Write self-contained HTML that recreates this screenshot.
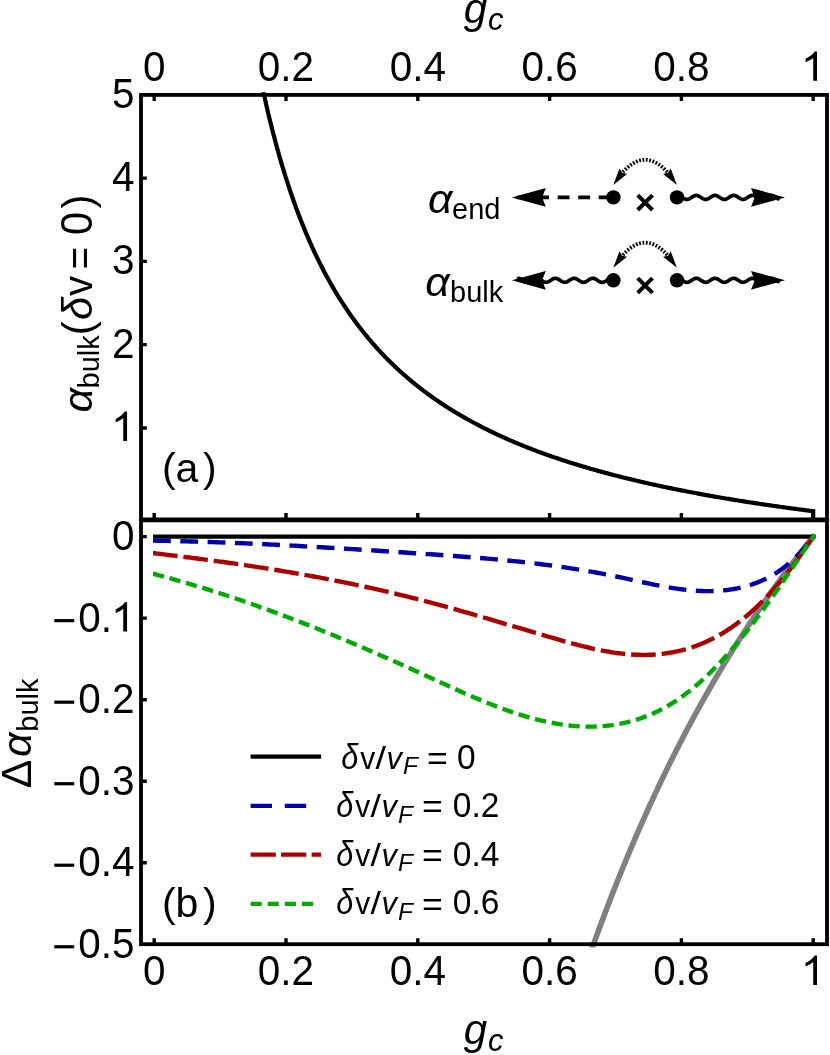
<!DOCTYPE html>
<html><head><meta charset="utf-8"><title>fig</title>
<style>html,body{margin:0;padding:0;background:#fff}svg{display:block;will-change:transform}</style></head>
<body>
<svg width="830" height="1055" viewBox="0 0 830 1055">
<rect width="830" height="1055" fill="#fff"/>
<defs>
<clipPath id="ct"><rect x="141.0" y="92.2" width="686.0" height="428.2"/></clipPath>
<clipPath id="cg"><rect x="141.0" y="520.4" width="686.0" height="427.00000000000006"/></clipPath>
<clipPath id="cb"><rect x="141.0" y="520.4" width="686.0" height="423.80000000000007"/></clipPath>
<path id="one" d="M763 0H583V-1147Q518 -1085 412.5 -1023Q307 -961 223 -930V-1104Q374 -1175 487 -1276Q600 -1377 647 -1472H763Z"/>
<path id="ah" d="M0,0 L-34,-9.4 L-30.3,0 L-34,9.4 Z"/>
<path id="ahs" d="M0,0 L-17,-4.7 L-15,0 L-17,4.7 Z"/>
</defs>
<g clip-path="url(#ct)"><path d="M259.64,74.03 L261.03,80.79 L262.41,87.38 L263.80,93.80 L265.19,100.05 L266.58,106.16 L267.96,112.11 L269.35,117.92 L270.74,123.60 L272.13,129.14 L273.51,134.55 L274.90,139.83 L276.29,145.00 L277.68,150.05 L279.06,154.99 L280.45,159.82 L281.84,164.54 L283.23,169.17 L284.61,173.69 L286.00,178.12 L287.39,182.46 L288.77,186.70 L290.16,190.87 L291.55,194.94 L292.94,198.94 L294.32,202.85 L295.71,206.69 L297.10,210.46 L298.49,214.15 L299.87,217.77 L301.26,221.33 L302.65,224.81 L304.04,228.24 L305.42,231.60 L306.81,234.89 L308.20,238.13 L309.59,241.32 L310.97,244.44 L312.36,247.51 L313.75,250.53 L315.13,253.49 L316.52,256.41 L317.91,259.27 L319.30,262.09 L320.68,264.86 L322.07,267.58 L323.46,270.26 L324.85,272.90 L326.23,275.49 L327.62,278.04 L329.01,280.56 L330.40,283.03 L331.78,285.46 L333.17,287.86 L334.56,290.21 L335.95,292.54 L337.33,294.82 L338.72,297.08 L340.11,299.30 L341.49,301.48 L342.88,303.64 L344.27,305.76 L345.66,307.85 L347.04,309.91 L348.43,311.95 L349.82,313.95 L351.21,315.93 L352.59,317.87 L353.98,319.79 L355.37,321.69 L356.76,323.56 L358.14,325.40 L359.53,327.22 L360.92,329.01 L362.31,330.78 L363.69,332.53 L365.08,334.25 L366.47,335.95 L367.85,337.63 L369.24,339.29 L370.63,340.92 L372.02,342.54 L373.40,344.13 L374.79,345.71 L376.18,347.26 L377.57,348.80 L378.95,350.31 L380.34,351.81 L381.73,353.29 L383.12,354.75 L384.50,356.20 L385.89,357.62 L387.28,359.03 L388.67,360.43 L390.05,361.80 L391.44,363.16 L392.83,364.51 L394.21,365.84 L395.60,367.15 L396.99,368.45 L398.38,369.74 L399.76,371.01 L401.15,372.26 L402.54,373.50 L403.93,374.73 L405.31,375.94 L406.70,377.14 L408.09,378.33 L409.48,379.51 L410.86,380.67 L412.25,381.82 L413.64,382.96 L415.03,384.08 L416.41,385.19 L417.80,386.29 L419.19,387.38 L420.57,388.46 L421.96,389.53 L423.35,390.59 L424.74,391.63 L426.12,392.67 L427.51,393.69 L428.90,394.71 L430.29,395.71 L431.67,396.70 L433.06,397.69 L434.45,398.66 L435.84,399.63 L437.22,400.58 L438.61,401.53 L440.00,402.46 L441.39,403.39 L442.77,404.31 L444.16,405.22 L445.55,406.12 L446.93,407.01 L448.32,407.90 L449.71,408.77 L451.10,409.64 L452.48,410.50 L453.87,411.35 L455.26,412.20 L456.65,413.03 L458.03,413.86 L459.42,414.68 L460.81,415.50 L462.20,416.30 L463.58,417.10 L464.97,417.89 L466.36,418.68 L467.75,419.46 L469.13,420.23 L470.52,420.99 L471.91,421.75 L473.29,422.50 L474.68,423.24 L476.07,423.98 L477.46,424.71 L478.84,425.44 L480.23,426.16 L481.62,426.87 L483.01,427.58 L484.39,428.28 L485.78,428.98 L487.17,429.66 L488.56,430.35 L489.94,431.03 L491.33,431.70 L492.72,432.37 L494.11,433.03 L495.49,433.68 L496.88,434.34 L498.27,434.98 L499.65,435.62 L501.04,436.26 L502.43,436.89 L503.82,437.51 L505.20,438.13 L506.59,438.75 L507.98,439.36 L509.37,439.97 L510.75,440.57 L512.14,441.16 L513.53,441.75 L514.92,442.34 L516.30,442.92 L517.69,443.50 L519.08,444.08 L520.47,444.65 L521.85,445.21 L523.24,445.77 L524.63,446.33 L526.01,446.88 L527.40,447.43 L528.79,447.98 L530.18,448.52 L531.56,449.05 L532.95,449.59 L534.34,450.12 L535.73,450.64 L537.11,451.16 L538.50,451.68 L539.89,452.19 L541.28,452.70 L542.66,453.21 L544.05,453.71 L545.44,454.21 L546.83,454.71 L548.21,455.20 L549.60,455.69 L550.99,456.17 L552.37,456.65 L553.76,457.13 L555.15,457.61 L556.54,458.08 L557.92,458.55 L559.31,459.01 L560.70,459.48 L562.09,459.94 L563.47,460.39 L564.86,460.84 L566.25,461.29 L567.64,461.74 L569.02,462.18 L570.41,462.63 L571.80,463.06 L573.19,463.50 L574.57,463.93 L575.96,464.36 L577.35,464.79 L578.73,465.21 L580.12,465.63 L581.51,466.05 L582.90,466.47 L584.28,466.88 L585.67,467.29 L587.06,467.70 L588.45,468.10 L589.83,468.50 L591.22,468.90 L592.61,469.30 L594.00,469.70 L595.38,470.09 L596.77,470.48 L598.16,470.87 L599.55,471.25 L600.93,471.63 L602.32,472.01 L603.71,472.39 L605.09,472.77 L606.48,473.14 L607.87,473.51 L609.26,473.88 L610.64,474.25 L612.03,474.61 L613.42,474.97 L614.81,475.33 L616.19,475.69 L617.58,476.05 L618.97,476.40 L620.36,476.75 L621.74,477.10 L623.13,477.45 L624.52,477.79 L625.91,478.14 L627.29,478.48 L628.68,478.82 L630.07,479.15 L631.45,479.49 L632.84,479.82 L634.23,480.15 L635.62,480.48 L637.00,480.81 L638.39,481.14 L639.78,481.46 L641.17,481.78 L642.55,482.10 L643.94,482.42 L645.33,482.74 L646.72,483.05 L648.10,483.37 L649.49,483.68 L650.88,483.99 L652.27,484.29 L653.65,484.60 L655.04,484.90 L656.43,485.21 L657.81,485.51 L659.20,485.81 L660.59,486.10 L661.98,486.40 L663.36,486.70 L664.75,486.99 L666.14,487.28 L667.53,487.57 L668.91,487.86 L670.30,488.14 L671.69,488.43 L673.08,488.71 L674.46,488.99 L675.85,489.28 L677.24,489.55 L678.63,489.83 L680.01,490.11 L681.40,490.38 L682.79,490.66 L684.17,490.93 L685.56,491.20 L686.95,491.47 L688.34,491.73 L689.72,492.00 L691.11,492.27 L692.50,492.53 L693.89,492.79 L695.27,493.05 L696.66,493.31 L698.05,493.57 L699.44,493.83 L700.82,494.08 L702.21,494.34 L703.60,494.59 L704.99,494.84 L706.37,495.09 L707.76,495.34 L709.15,495.59 L710.53,495.83 L711.92,496.08 L713.31,496.32 L714.70,496.57 L716.08,496.81 L717.47,497.05 L718.86,497.29 L720.25,497.53 L721.63,497.76 L723.02,498.00 L724.41,498.23 L725.80,498.47 L727.18,498.70 L728.57,498.93 L729.96,499.16 L731.35,499.39 L732.73,499.62 L734.12,499.84 L735.51,500.07 L736.89,500.30 L738.28,500.52 L739.67,500.74 L741.06,500.96 L742.44,501.18 L743.83,501.40 L745.22,501.62 L746.61,501.84 L747.99,502.06 L749.38,502.27 L750.77,502.49 L752.16,502.70 L753.54,502.91 L754.93,503.12 L756.32,503.33 L757.71,503.54 L759.09,503.75 L760.48,503.96 L761.87,504.17 L763.25,504.37 L764.64,504.58 L766.03,504.78 L767.42,504.98 L768.80,505.19 L770.19,505.39 L771.58,505.59 L772.97,505.79 L774.35,505.98 L775.74,506.18 L777.13,506.38 L778.52,506.57 L779.90,506.77 L781.29,506.96 L782.68,507.16 L784.07,507.35 L785.45,507.54 L786.84,507.73 L788.23,507.92 L789.61,508.11 L791.00,508.30 L792.39,508.48 L793.78,508.67 L795.16,508.86 L796.55,509.04 L797.94,509.23 L799.33,509.41 L800.71,509.59 L802.10,509.77 L803.49,509.95 L804.88,510.13 L806.26,510.31 L807.65,510.49 L809.04,510.67 L810.43,510.85 L811.81,511.02 L813.20,511.20 L813.20,520.40" fill="none" stroke="#000" stroke-width="4.2" stroke-linejoin="miter" stroke-miterlimit="10"/></g>
<g fill="none">
<path d="M575.96,995.20 L577.15,991.61 L578.34,988.04 L579.54,984.49 L580.73,980.96 L581.92,977.45 L583.11,973.96 L584.31,970.49 L585.50,967.03 L586.69,963.60 L587.88,960.19 L589.07,956.79 L590.27,953.41 L591.46,950.05 L592.65,946.71 L593.84,943.39 L595.03,940.09 L596.23,936.80 L597.42,933.53 L598.61,930.28 L599.80,927.04 L601.00,923.83 L602.19,920.63 L603.38,917.45 L604.57,914.28 L605.76,911.13 L606.96,908.00 L608.15,904.88 L609.34,901.78 L610.53,898.70 L611.72,895.63 L612.92,892.58 L614.11,889.54 L615.30,886.52 L616.49,883.52 L617.69,880.53 L618.88,877.56 L620.07,874.60 L621.26,871.65 L622.45,868.73 L623.65,865.81 L624.84,862.91 L626.03,860.03 L627.22,857.16 L628.42,854.30 L629.61,851.46 L630.80,848.64 L631.99,845.82 L633.18,843.03 L634.38,840.24 L635.57,837.47 L636.76,834.71 L637.95,831.97 L639.14,829.24 L640.34,826.52 L641.53,823.82 L642.72,821.13 L643.91,818.45 L645.11,815.79 L646.30,813.14 L647.49,810.50 L648.68,807.87 L649.87,805.26 L651.07,802.66 L652.26,800.07 L653.45,797.50 L654.64,794.93 L655.83,792.38 L657.03,789.84 L658.22,787.32 L659.41,784.80 L660.60,782.30 L661.80,779.81 L662.99,777.33 L664.18,774.86 L665.37,772.40 L666.56,769.96 L667.76,767.52 L668.95,765.10 L670.14,762.69 L671.33,760.29 L672.53,757.90 L673.72,755.52 L674.91,753.15 L676.10,750.80 L677.29,748.45 L678.49,746.11 L679.68,743.79 L680.87,741.48 L682.06,739.17 L683.25,736.88 L684.45,734.60 L685.64,732.32 L686.83,730.06 L688.02,727.81 L689.22,725.56 L690.41,723.33 L691.60,721.11 L692.79,718.90 L693.98,716.69 L695.18,714.50 L696.37,712.32 L697.56,710.14 L698.75,707.98 L699.94,705.82 L701.14,703.68 L702.33,701.54 L703.52,699.41 L704.71,697.30 L705.91,695.19 L707.10,693.09 L708.29,691.00 L709.48,688.92 L710.67,686.84 L711.87,684.78 L713.06,682.73 L714.25,680.68 L715.44,678.64 L716.63,676.61 L717.83,674.59 L719.02,672.58 L720.21,670.58 L721.40,668.58 L722.60,666.60 L723.79,664.62 L724.98,662.65 L726.17,660.69 L727.36,658.73 L728.56,656.79 L729.75,654.85 L730.94,652.92 L732.13,651.00 L733.33,649.08 L734.52,647.18 L735.71,645.28 L736.90,643.39 L738.09,641.51 L739.29,639.63 L740.48,637.77 L741.67,635.91 L742.86,634.06 L744.05,632.21 L745.25,630.37 L746.44,628.54 L747.63,626.72 L748.82,624.91 L750.02,623.10 L751.21,621.30 L752.40,619.51 L753.59,617.72 L754.78,615.94 L755.98,614.17 L757.17,612.40 L758.36,610.65 L759.55,608.89 L760.74,607.15 L761.94,605.41 L763.13,603.68 L764.32,601.96 L765.51,600.24 L766.71,598.53 L767.90,596.83 L769.09,595.13 L770.28,593.44 L771.47,591.75 L772.67,590.08 L773.86,588.41 L775.05,586.74 L776.24,585.08 L777.44,583.43 L778.63,581.79 L779.82,580.15 L781.01,578.51 L782.20,576.89 L783.40,575.26 L784.59,573.65 L785.78,572.04 L786.97,570.44 L788.16,568.84 L789.36,567.25 L790.55,565.67 L791.74,564.09 L792.93,562.52 L794.13,560.95 L795.32,559.39 L796.51,557.83 L797.70,556.28 L798.89,554.74 L800.09,553.20 L801.28,551.67 L802.47,550.14 L803.66,548.62 L804.85,547.11 L806.05,545.60 L807.24,544.09 L808.43,542.59 L809.62,541.10 L810.82,539.61 L812.01,538.13 L813.20,536.65" stroke="#808080" stroke-width="5.6" clip-path="url(#cg)"/>
</g>
<g clip-path="url(#cb)" fill="none">
<path d="M153,536.6999999999999 L815.6,536.6999999999999" stroke="#000" stroke-width="4.2"/>
<path d="M153.00,540.66 L154.20,540.66 L157.49,540.71 L160.79,540.76 L164.08,540.82 L167.38,540.89 L170.67,540.95 L173.97,541.03 L177.26,541.10 L180.56,541.18 L183.85,541.26 L187.15,541.34 L190.44,541.43 L193.74,541.52 L197.03,541.62 L200.33,541.72 L203.62,541.82 L206.92,541.92 L210.21,542.03 L213.51,542.14 L216.81,542.26 L220.10,542.37 L223.39,542.49 L226.69,542.62 L229.98,542.74 L233.28,542.87 L236.57,543.01 L239.87,543.14 L243.16,543.28 L246.46,543.42 L249.75,543.56 L253.05,543.71 L256.34,543.86 L259.64,544.01 L262.94,544.16 L266.23,544.32 L269.52,544.47 L272.82,544.63 L276.12,544.80 L279.41,544.96 L282.70,545.13 L286.00,545.30 L289.29,545.47 L292.59,545.65 L295.88,545.82 L299.18,546.00 L302.48,546.18 L305.77,546.36 L309.06,546.55 L312.36,546.73 L315.65,546.92 L318.95,547.11 L322.25,547.30 L325.54,547.49 L328.84,547.69 L332.13,547.88 L335.43,548.08 L338.72,548.28 L342.01,548.48 L345.31,548.68 L348.61,548.89 L351.90,549.09 L355.19,549.30 L358.49,549.51 L361.78,549.71 L365.08,549.92 L368.38,550.14 L371.67,550.35 L374.97,550.56 L378.26,550.78 L381.56,550.99 L384.85,551.21 L388.14,551.42 L391.44,551.64 L394.74,551.86 L398.03,552.08 L401.32,552.30 L404.62,552.52 L407.91,552.74 L411.21,552.97 L414.50,553.19 L417.80,553.41 L421.10,553.64 L424.39,553.86 L427.69,554.09 L430.98,554.31 L434.27,554.54 L437.57,554.77 L440.87,555.00 L444.16,555.24 L447.45,555.47 L450.75,555.71 L454.05,555.95 L457.34,556.20 L460.63,556.45 L463.93,556.70 L467.23,556.95 L470.52,557.21 L473.81,557.48 L477.11,557.75 L480.40,558.02 L483.70,558.30 L487.00,558.58 L490.29,558.87 L493.58,559.17 L496.88,559.47 L500.18,559.77 L503.47,560.09 L506.76,560.41 L510.06,560.74 L513.36,561.07 L516.65,561.41 L519.94,561.76 L523.24,562.12 L526.54,562.49 L529.83,562.86 L533.12,563.24 L536.42,563.63 L539.71,564.03 L543.01,564.45 L546.30,564.86 L549.60,565.29 L552.89,565.73 L556.19,566.18 L559.48,566.64 L562.78,567.12 L566.08,567.60 L569.37,568.09 L572.66,568.60 L575.96,569.12 L579.25,569.64 L582.55,570.19 L585.85,570.74 L589.14,571.31 L592.43,571.89 L595.73,572.48 L599.03,573.08 L602.32,573.70 L605.62,574.34 L608.91,574.99 L612.21,575.65 L615.50,576.33 L618.79,577.02 L622.09,577.72 L625.38,578.43 L628.68,579.15 L631.97,579.88 L635.27,580.60 L638.57,581.32 L641.86,582.04 L645.15,582.75 L648.45,583.45 L651.75,584.14 L655.04,584.81 L658.34,585.46 L661.63,586.09 L664.92,586.70 L668.22,587.28 L671.52,587.83 L674.81,588.35 L678.11,588.83 L681.40,589.28 L683.05,589.48 L683.87,589.58 L684.68,589.68 L685.50,589.77 L686.32,589.86 L687.14,589.95 L687.96,590.04 L688.78,590.12 L689.60,590.20 L690.41,590.28 L691.23,590.35 L692.05,590.42 L692.87,590.49 L693.69,590.55 L694.51,590.61 L695.33,590.67 L696.14,590.73 L696.96,590.78 L697.78,590.83 L698.60,590.87 L699.42,590.91 L700.24,590.95 L701.06,590.98 L701.87,591.01 L702.69,591.04 L703.51,591.07 L704.33,591.08 L705.15,591.10 L705.97,591.11 L706.79,591.12 L707.60,591.13 L708.42,591.13 L709.24,591.12 L710.06,591.12 L710.88,591.11 L711.70,591.09 L712.52,591.07 L713.33,591.05 L714.15,591.02 L714.97,590.99 L715.79,590.95 L716.61,590.91 L717.43,590.87 L718.25,590.82 L719.06,590.77 L719.88,590.71 L720.70,590.65 L721.52,590.58 L722.34,590.51 L723.16,590.43 L723.98,590.35 L724.79,590.26 L725.61,590.17 L726.43,590.08 L727.25,589.98 L728.07,589.87 L728.89,589.76 L729.71,589.64 L730.52,589.52 L731.34,589.40 L732.16,589.27 L732.98,589.13 L733.80,588.99 L734.62,588.85 L735.44,588.69 L736.25,588.54 L737.07,588.38 L737.89,588.21 L738.71,588.03 L739.53,587.86 L740.35,587.67 L741.17,587.48 L741.98,587.29 L742.80,587.08 L743.62,586.88 L744.44,586.67 L745.26,586.45 L746.08,586.22 L746.90,585.99 L747.71,585.76 L748.53,585.51 L749.35,585.27 L750.17,585.01 L750.99,584.75 L751.81,584.48 L752.63,584.21 L753.44,583.93 L754.26,583.64 L755.08,583.34 L755.90,583.04 L756.72,582.73 L757.54,582.42 L758.36,582.09 L759.17,581.76 L759.99,581.42 L760.81,581.07 L761.63,580.72 L762.45,580.35 L763.27,579.98 L764.09,579.60 L764.90,579.21 L765.72,578.81 L766.54,578.41 L767.36,577.99 L768.18,577.57 L769.00,577.13 L769.82,576.69 L770.63,576.24 L771.45,575.78 L772.27,575.31 L773.09,574.82 L773.91,574.33 L774.73,573.83 L775.55,573.32 L776.36,572.80 L777.18,572.27 L778.00,571.72 L778.82,571.17 L779.64,570.61 L780.46,570.03 L781.28,569.45 L782.09,568.85 L782.91,568.24 L783.73,567.62 L784.55,566.99 L785.37,566.35 L786.19,565.69 L787.01,565.02 L787.82,564.35 L788.64,563.65 L789.46,562.95 L790.28,562.24 L791.10,561.51 L791.92,560.77 L792.74,560.01 L793.55,559.25 L794.37,558.47 L795.19,557.67 L796.01,556.87 L796.83,556.05 L797.65,555.22 L798.47,554.37 L799.28,553.51 L800.10,552.63 L800.92,551.75 L801.74,550.84 L802.56,549.93 L803.38,549.00 L804.20,548.05 L805.01,547.09 L805.83,546.11 L806.65,545.12 L807.47,544.12 L808.29,543.10 L809.11,542.06 L809.93,541.01 L810.74,539.94 L811.56,538.86 L812.38,537.76 L813.20,536.65 L814.50,534.88" stroke="#0000aa" stroke-width="4.4" stroke-dasharray="17.8 9.5"/>
<path d="M153.00,553.28 L154.20,553.28 L157.49,553.67 L160.79,554.05 L164.08,554.44 L167.38,554.84 L170.67,555.23 L173.97,555.63 L177.26,556.03 L180.56,556.44 L183.85,556.85 L187.15,557.26 L190.44,557.68 L193.74,558.09 L197.03,558.52 L200.33,558.95 L203.62,559.38 L206.92,559.81 L210.21,560.25 L213.51,560.69 L216.81,561.14 L220.10,561.59 L223.39,562.05 L226.69,562.51 L229.98,562.97 L233.28,563.44 L236.57,563.91 L239.87,564.39 L243.16,564.87 L246.46,565.36 L249.75,565.85 L253.05,566.35 L256.34,566.86 L259.64,567.36 L262.94,567.88 L266.23,568.39 L269.52,568.92 L272.82,569.45 L276.12,569.98 L279.41,570.52 L282.70,571.07 L286.00,571.62 L289.29,572.18 L292.59,572.74 L295.88,573.31 L299.18,573.88 L302.48,574.46 L305.77,575.05 L309.06,575.64 L312.36,576.24 L315.65,576.85 L318.95,577.46 L322.25,578.08 L325.54,578.71 L328.84,579.34 L332.13,579.98 L335.43,580.63 L338.72,581.28 L342.01,581.94 L345.31,582.61 L348.61,583.28 L351.90,583.96 L355.19,584.65 L358.49,585.35 L361.78,586.05 L365.08,586.76 L368.38,587.48 L371.67,588.21 L374.97,588.94 L378.26,589.68 L381.56,590.43 L384.85,591.19 L388.14,591.96 L391.44,592.73 L394.74,593.51 L398.03,594.30 L401.32,595.10 L404.62,595.91 L407.91,596.72 L411.21,597.55 L414.50,598.38 L417.80,599.22 L421.10,600.07 L424.39,600.93 L427.69,601.80 L430.98,602.67 L434.27,603.55 L437.57,604.44 L440.87,605.34 L444.16,606.24 L447.45,607.15 L450.75,608.07 L454.05,608.99 L457.34,609.92 L460.63,610.85 L463.93,611.79 L467.23,612.73 L470.52,613.68 L473.81,614.63 L477.11,615.59 L480.40,616.55 L483.70,617.51 L487.00,618.47 L490.29,619.44 L493.58,620.41 L496.88,621.39 L500.18,622.36 L503.47,623.34 L506.76,624.31 L510.06,625.29 L513.36,626.27 L516.65,627.25 L519.94,628.23 L523.24,629.21 L526.54,630.19 L529.83,631.17 L533.12,632.14 L536.42,633.12 L539.71,634.09 L543.01,635.07 L546.30,636.04 L549.60,637.00 L552.89,637.97 L556.19,638.93 L559.48,639.88 L562.78,640.82 L566.08,641.76 L569.37,642.67 L572.66,643.57 L575.96,644.46 L579.25,645.32 L582.55,646.16 L585.85,646.97 L589.14,647.76 L592.43,648.52 L595.73,649.25 L599.03,649.94 L602.32,650.59 L605.62,651.21 L608.91,651.79 L612.21,652.32 L615.50,652.81 L618.79,653.25 L622.09,653.65 L625.38,653.99 L628.68,654.28 L631.97,654.51 L635.27,654.69 L638.57,654.81 L641.86,654.88 L645.15,654.88 L648.45,654.82 L651.75,654.69 L655.04,654.50 L658.34,654.24 L661.63,653.91 L664.92,653.51 L668.22,653.03 L671.52,652.49 L674.81,651.86 L678.11,651.16 L681.40,650.38 L683.05,649.95 L683.87,649.74 L684.68,649.51 L685.50,649.29 L686.32,649.05 L687.14,648.82 L687.96,648.57 L688.78,648.32 L689.60,648.07 L690.41,647.81 L691.23,647.55 L692.05,647.28 L692.87,647.00 L693.69,646.72 L694.51,646.44 L695.33,646.14 L696.14,645.85 L696.96,645.55 L697.78,645.24 L698.60,644.92 L699.42,644.61 L700.24,644.28 L701.06,643.95 L701.87,643.62 L702.69,643.27 L703.51,642.93 L704.33,642.57 L705.15,642.21 L705.97,641.85 L706.79,641.48 L707.60,641.10 L708.42,640.72 L709.24,640.33 L710.06,639.94 L710.88,639.54 L711.70,639.13 L712.52,638.72 L713.33,638.30 L714.15,637.88 L714.97,637.45 L715.79,637.01 L716.61,636.57 L717.43,636.12 L718.25,635.67 L719.06,635.21 L719.88,634.74 L720.70,634.27 L721.52,633.79 L722.34,633.30 L723.16,632.81 L723.98,632.31 L724.79,631.80 L725.61,631.29 L726.43,630.77 L727.25,630.25 L728.07,629.72 L728.89,629.18 L729.71,628.64 L730.52,628.09 L731.34,627.53 L732.16,626.97 L732.98,626.40 L733.80,625.82 L734.62,625.23 L735.44,624.64 L736.25,624.05 L737.07,623.44 L737.89,622.83 L738.71,622.21 L739.53,621.59 L740.35,620.96 L741.17,620.32 L741.98,619.67 L742.80,619.02 L743.62,618.36 L744.44,617.69 L745.26,617.02 L746.08,616.34 L746.90,615.65 L747.71,614.96 L748.53,614.25 L749.35,613.54 L750.17,612.83 L750.99,612.10 L751.81,611.37 L752.63,610.64 L753.44,609.89 L754.26,609.14 L755.08,608.38 L755.90,607.61 L756.72,606.84 L757.54,606.06 L758.36,605.27 L759.17,604.48 L759.99,603.68 L760.81,602.87 L761.63,602.05 L762.45,601.23 L763.27,600.40 L764.09,599.56 L764.90,598.72 L765.72,597.87 L766.54,597.01 L767.36,596.14 L768.18,595.27 L769.00,594.39 L769.82,593.51 L770.63,592.61 L771.45,591.71 L772.27,590.81 L773.09,589.89 L773.91,588.97 L774.73,588.04 L775.55,587.11 L776.36,586.17 L777.18,585.22 L778.00,584.26 L778.82,583.30 L779.64,582.33 L780.46,581.35 L781.28,580.37 L782.09,579.38 L782.91,578.38 L783.73,577.37 L784.55,576.36 L785.37,575.34 L786.19,574.32 L787.01,573.29 L787.82,572.25 L788.64,571.20 L789.46,570.15 L790.28,569.09 L791.10,568.02 L791.92,566.95 L792.74,565.87 L793.55,564.78 L794.37,563.69 L795.19,562.59 L796.01,561.48 L796.83,560.37 L797.65,559.24 L798.47,558.12 L799.28,556.98 L800.10,555.84 L800.92,554.69 L801.74,553.53 L802.56,552.37 L803.38,551.20 L804.20,550.03 L805.01,548.84 L805.83,547.66 L806.65,546.46 L807.47,545.26 L808.29,544.05 L809.11,542.83 L809.93,541.61 L810.74,540.38 L811.56,539.14 L812.38,537.90 L813.20,536.65 L814.41,534.81" stroke="#aa0000" stroke-width="4.4" stroke-dasharray="24.7 5.9"/>
<path d="M153.00,574.07 L154.20,574.07 L157.49,574.93 L160.79,575.80 L164.08,576.68 L167.38,577.58 L170.67,578.48 L173.97,579.40 L177.26,580.33 L180.56,581.27 L183.85,582.22 L187.15,583.17 L190.44,584.14 L193.74,585.13 L197.03,586.12 L200.33,587.12 L203.62,588.13 L206.92,589.15 L210.21,590.18 L213.51,591.22 L216.81,592.28 L220.10,593.34 L223.39,594.41 L226.69,595.49 L229.98,596.58 L233.28,597.68 L236.57,598.79 L239.87,599.91 L243.16,601.04 L246.46,602.17 L249.75,603.32 L253.05,604.48 L256.34,605.64 L259.64,606.81 L262.94,608.00 L266.23,609.19 L269.52,610.39 L272.82,611.59 L276.12,612.81 L279.41,614.04 L282.70,615.27 L286.00,616.51 L289.29,617.76 L292.59,619.02 L295.88,620.28 L299.18,621.56 L302.48,622.84 L305.77,624.13 L309.06,625.42 L312.36,626.73 L315.65,628.04 L318.95,629.36 L322.25,630.69 L325.54,632.02 L328.84,633.36 L332.13,634.71 L335.43,636.07 L338.72,637.43 L342.01,638.80 L345.31,640.17 L348.61,641.55 L351.90,642.94 L355.19,644.34 L358.49,645.74 L361.78,647.15 L365.08,648.56 L368.38,649.99 L371.67,651.41 L374.97,652.85 L378.26,654.28 L381.56,655.73 L384.85,657.18 L388.14,658.64 L391.44,660.10 L394.74,661.57 L398.03,663.04 L401.32,664.52 L404.62,666.00 L407.91,667.49 L411.21,668.99 L414.50,670.49 L417.80,671.99 L421.10,673.50 L424.39,675.01 L427.69,676.53 L430.98,678.04 L434.27,679.56 L437.57,681.07 L440.87,682.59 L444.16,684.09 L447.45,685.59 L450.75,687.09 L454.05,688.58 L457.34,690.05 L460.63,691.52 L463.93,692.98 L467.23,694.42 L470.52,695.85 L473.81,697.26 L477.11,698.65 L480.40,700.03 L483.70,701.39 L487.00,702.72 L490.29,704.03 L493.58,705.32 L496.88,706.59 L500.18,707.83 L503.47,709.04 L506.76,710.22 L510.06,711.37 L513.36,712.49 L516.65,713.58 L519.94,714.64 L523.24,715.66 L526.54,716.64 L529.83,717.58 L533.12,718.49 L536.42,719.35 L539.71,720.18 L543.01,720.96 L546.30,721.69 L549.60,722.38 L552.89,723.03 L556.19,723.62 L559.48,724.17 L562.78,724.66 L566.08,725.11 L569.37,725.50 L572.66,725.83 L575.96,726.11 L579.25,726.33 L582.55,726.50 L585.85,726.60 L589.14,726.64 L592.43,726.62 L595.73,726.54 L599.03,726.39 L602.32,726.17 L605.62,725.89 L608.91,725.54 L612.21,725.12 L615.50,724.62 L618.79,724.06 L622.09,723.41 L625.38,722.70 L628.68,721.90 L631.97,721.02 L635.27,720.07 L638.57,719.03 L641.86,717.90 L645.15,716.68 L648.45,715.38 L651.75,713.99 L655.04,712.50 L658.34,710.92 L661.63,709.24 L664.92,707.47 L668.22,705.59 L671.52,703.62 L674.81,701.54 L678.11,699.35 L681.40,697.06 L683.05,695.87 L683.87,695.27 L684.68,694.66 L685.50,694.05 L686.32,693.43 L687.14,692.81 L687.96,692.17 L688.78,691.53 L689.60,690.89 L690.41,690.24 L691.23,689.58 L692.05,688.91 L692.87,688.24 L693.69,687.56 L694.51,686.88 L695.33,686.19 L696.14,685.49 L696.96,684.79 L697.78,684.08 L698.60,683.36 L699.42,682.64 L700.24,681.91 L701.06,681.18 L701.87,680.44 L702.69,679.69 L703.51,678.94 L704.33,678.18 L705.15,677.42 L705.97,676.65 L706.79,675.87 L707.60,675.09 L708.42,674.30 L709.24,673.51 L710.06,672.71 L710.88,671.90 L711.70,671.09 L712.52,670.28 L713.33,669.45 L714.15,668.62 L714.97,667.79 L715.79,666.95 L716.61,666.10 L717.43,665.25 L718.25,664.40 L719.06,663.53 L719.88,662.67 L720.70,661.79 L721.52,660.91 L722.34,660.03 L723.16,659.14 L723.98,658.24 L724.79,657.34 L725.61,656.44 L726.43,655.52 L727.25,654.61 L728.07,653.69 L728.89,652.76 L729.71,651.83 L730.52,650.89 L731.34,649.94 L732.16,649.00 L732.98,648.04 L733.80,647.08 L734.62,646.12 L735.44,645.15 L736.25,644.18 L737.07,643.20 L737.89,642.22 L738.71,641.23 L739.53,640.23 L740.35,639.24 L741.17,638.23 L741.98,637.22 L742.80,636.21 L743.62,635.19 L744.44,634.17 L745.26,633.14 L746.08,632.11 L746.90,631.07 L747.71,630.03 L748.53,628.99 L749.35,627.94 L750.17,626.88 L750.99,625.82 L751.81,624.76 L752.63,623.69 L753.44,622.61 L754.26,621.54 L755.08,620.46 L755.90,619.37 L756.72,618.28 L757.54,617.19 L758.36,616.09 L759.17,614.99 L759.99,613.88 L760.81,612.77 L761.63,611.66 L762.45,610.54 L763.27,609.42 L764.09,608.30 L764.90,607.17 L765.72,606.04 L766.54,604.91 L767.36,603.77 L768.18,602.63 L769.00,601.49 L769.82,600.34 L770.63,599.19 L771.45,598.04 L772.27,596.88 L773.09,595.72 L773.91,594.56 L774.73,593.40 L775.55,592.23 L776.36,591.06 L777.18,589.89 L778.00,588.71 L778.82,587.53 L779.64,586.35 L780.46,585.17 L781.28,583.98 L782.09,582.80 L782.91,581.61 L783.73,580.42 L784.55,579.22 L785.37,578.03 L786.19,576.83 L787.01,575.63 L787.82,574.43 L788.64,573.22 L789.46,572.02 L790.28,570.81 L791.10,569.61 L791.92,568.40 L792.74,567.18 L793.55,565.97 L794.37,564.76 L795.19,563.54 L796.01,562.33 L796.83,561.11 L797.65,559.89 L798.47,558.67 L799.28,557.45 L800.10,556.23 L800.92,555.01 L801.74,553.79 L802.56,552.57 L803.38,551.35 L804.20,550.12 L805.01,548.90 L805.83,547.67 L806.65,546.45 L807.47,545.22 L808.29,544.00 L809.11,542.77 L809.93,541.55 L810.74,540.32 L811.56,539.10 L812.38,537.87 L813.20,536.65 L814.42,534.82" stroke="#00aa00" stroke-width="4.4" stroke-dasharray="11.3 5.75"/>
</g>
<g fill="none" stroke="#000" stroke-width="3.8">
<rect x="141.0" y="94.9" width="686.0" height="424.5"/>
<rect x="141.0" y="520.4" width="686.0" height="423.80000000000007"/>
</g>
<path d="M154.20,94.9 v6.0 M154.20,519.4 v-6.5 M154.20,944.2 v-6.0 M286.00,94.9 v6.0 M286.00,519.4 v-6.5 M286.00,944.2 v-6.0 M417.80,94.9 v6.0 M417.80,519.4 v-6.5 M417.80,944.2 v-6.0 M549.60,94.9 v6.0 M549.60,519.4 v-6.5 M549.60,944.2 v-6.0 M681.40,94.9 v6.0 M681.40,519.4 v-6.5 M681.40,944.2 v-6.0 M813.20,94.9 v6.0 M813.20,519.4 v-6.5 M813.20,944.2 v-6.0 M141.0,427.93 h5.8 M141.0,344.66 h5.8 M141.0,261.39 h5.8 M141.0,178.12 h5.8 M141.0,536.65 h5.8 M141.0,618.17 h5.8 M141.0,699.69 h5.8 M141.0,781.21 h5.8 M141.0,862.73 h5.8" fill="none" stroke="#000" stroke-width="3.4"/>
<g font-family="'Liberation Sans', sans-serif" fill="#000">
<text transform="translate(142.94,80.80) scale(1.0,1.055)" font-size="40.5" text-anchor="start">0</text>
<text transform="translate(142.94,985.00) scale(1.0,1.055)" font-size="40.5" text-anchor="start">0</text>
<text transform="translate(257.85,80.80) scale(1.0,1.055)" font-size="40.5" text-anchor="start">0.2</text>
<text transform="translate(257.85,985.00) scale(1.0,1.055)" font-size="40.5" text-anchor="start">0.2</text>
<text transform="translate(389.65,80.80) scale(1.0,1.055)" font-size="40.5" text-anchor="start">0.4</text>
<text transform="translate(389.65,985.00) scale(1.0,1.055)" font-size="40.5" text-anchor="start">0.4</text>
<text transform="translate(521.45,80.80) scale(1.0,1.055)" font-size="40.5" text-anchor="start">0.6</text>
<text transform="translate(521.45,985.00) scale(1.0,1.055)" font-size="40.5" text-anchor="start">0.6</text>
<text transform="translate(653.25,80.80) scale(1.0,1.055)" font-size="40.5" text-anchor="start">0.8</text>
<text transform="translate(653.25,985.00) scale(1.0,1.055)" font-size="40.5" text-anchor="start">0.8</text>
<use href="#one" transform="translate(800.88,80.80) scale(0.02116,0.01997)"/>
<use href="#one" transform="translate(800.88,985.00) scale(0.02116,0.01997)"/>
<use href="#one" transform="translate(110.92,440.93) scale(0.02116,0.01997)"/>
<text transform="translate(111.98,357.66) scale(1.0,1.055)" font-size="40.5" text-anchor="start">2</text>
<text transform="translate(111.98,274.39) scale(1.0,1.055)" font-size="40.5" text-anchor="start">3</text>
<text transform="translate(111.98,191.12) scale(1.0,1.055)" font-size="40.5" text-anchor="start">4</text>
<text transform="translate(111.98,107.85) scale(1.0,1.055)" font-size="40.5" text-anchor="start">5</text>
<text transform="translate(111.98,549.85) scale(1.0,1.055)" font-size="40.5" text-anchor="start">0</text>
<text transform="translate(78.20,631.57) scale(1.0,1.055)" font-size="40.5" text-anchor="start">0.</text><use href="#one" transform="translate(110.92,631.57) scale(0.02116,0.01997)"/>
<rect x="54.3" y="619.07" width="19.9" height="3.2"/>
<text transform="translate(78.20,713.09) scale(1.0,1.055)" font-size="40.5" text-anchor="start">0.2</text>
<rect x="54.3" y="700.59" width="19.9" height="3.2"/>
<text transform="translate(78.20,794.61) scale(1.0,1.055)" font-size="40.5" text-anchor="start">0.3</text>
<rect x="54.3" y="782.11" width="19.9" height="3.2"/>
<text transform="translate(78.20,876.13) scale(1.0,1.055)" font-size="40.5" text-anchor="start">0.4</text>
<rect x="54.3" y="863.63" width="19.9" height="3.2"/>
<text transform="translate(78.20,957.65) scale(1.0,1.055)" font-size="40.5" text-anchor="start">0.5</text>
<rect x="54.3" y="945.15" width="19.9" height="3.2"/>
<text transform="translate(463.70,23.10) scale(1.0,1.0)" font-size="42" text-anchor="start" font-style="italic">g</text>
<text transform="translate(488.00,30.30) scale(1.0,1.0)" font-size="31" text-anchor="start" font-style="italic">c</text>
<text transform="translate(463.70,1044.00) scale(1.0,1.0)" font-size="42" text-anchor="start" font-style="italic">g</text>
<text transform="translate(488.00,1051.20) scale(1.0,1.0)" font-size="31" text-anchor="start" font-style="italic">c</text>
<text transform="translate(161.90,482.00) scale(1.0,1.0)" font-size="41" text-anchor="start">(</text>
<text transform="translate(175.50,482.00) scale(1.0,1.0)" font-size="41" text-anchor="start">a</text>
<text transform="translate(203.00,482.00) scale(1.0,1.0)" font-size="41" text-anchor="start">)</text>
<text transform="translate(161.90,917.00) scale(1.0,1.0)" font-size="41" text-anchor="start">(</text>
<text transform="translate(175.50,917.00) scale(1.0,1.0)" font-size="41" text-anchor="start">b</text>
<text transform="translate(203.00,917.00) scale(1.0,1.0)" font-size="41" text-anchor="start">)</text>
<g transform="translate(91.7,412) rotate(-90)">
<text transform="translate(-0.50,0.00) scale(1.0,0.96)" font-size="43" text-anchor="start" font-style="italic">α</text>
<text transform="translate(23.60,7.00) scale(1.0,1.0)" font-size="29" text-anchor="start">bulk</text>
<text transform="translate(76.80,0.00) scale(1.0,1.0)" font-size="42" text-anchor="start">(</text>
<text transform="translate(92.10,0.00) scale(1.1,1.1)" font-size="38" text-anchor="start" font-style="italic">δ</text>
<text transform="translate(115.90,0.00) scale(1.0,1.0)" font-size="40.5" text-anchor="start">v</text>
<text transform="translate(142.60,2.30) scale(0.96,1.055)" font-size="40.5" text-anchor="start">=</text>
<text transform="translate(177.00,0.00) scale(1.0,1.055)" font-size="41.5" text-anchor="start">0</text>
<text transform="translate(203.60,0.00) scale(1.0,1.0)" font-size="42" text-anchor="start">)</text>
</g>
<g transform="translate(30.8,787.1) rotate(-90)">
<text transform="translate(-1.20,0.00) scale(1.06,1.055)" font-size="40.5" text-anchor="start">Δ</text>
<text transform="translate(30.00,0.00) scale(1.0,0.96)" font-size="43" text-anchor="start" font-style="italic">α</text>
<text transform="translate(55.40,7.40) scale(1.0,1.0)" font-size="29" text-anchor="start">bulk</text>
</g>
<text transform="translate(427.90,212.80) scale(1.0,0.96)" font-size="43" text-anchor="start" font-style="italic">α</text>
<text transform="translate(452.00,218.80) scale(1.0,1.0)" font-size="29" text-anchor="start">end</text>
<text transform="translate(425.20,296.00) scale(1.0,0.96)" font-size="43" text-anchor="start" font-style="italic">α</text>
<text transform="translate(450.00,302.30) scale(1.0,1.0)" font-size="29" text-anchor="start">bulk</text>
<text transform="translate(341.20,768.60) scale(1.06,1.22)" font-size="29" text-anchor="start" font-style="italic">δ</text>
<text transform="translate(360.20,768.60) scale(1.0,1.055)" font-size="30" text-anchor="start">v</text>
<text transform="translate(375.60,768.60) scale(1.25,1.055)" font-size="30" text-anchor="start">/</text>
<text transform="translate(386.50,768.60) scale(1.0,1.0)" font-size="31" text-anchor="start" font-style="italic">v</text>
<text transform="translate(403.00,773.90) scale(1.0,1.0)" font-size="24.5" text-anchor="start" font-style="italic">F</text>
<text transform="translate(427.00,769.80) scale(1.15,1.055)" font-size="31" text-anchor="start">=</text>
<text transform="translate(457.00,768.60) scale(1.0,1.055)" font-size="33.5" text-anchor="start">0</text>
<text transform="translate(336.20,817.20) scale(1.06,1.22)" font-size="29" text-anchor="start" font-style="italic">δ</text>
<text transform="translate(355.20,817.20) scale(1.0,1.055)" font-size="30" text-anchor="start">v</text>
<text transform="translate(370.60,817.20) scale(1.25,1.055)" font-size="30" text-anchor="start">/</text>
<text transform="translate(381.50,817.20) scale(1.0,1.0)" font-size="31" text-anchor="start" font-style="italic">v</text>
<text transform="translate(398.00,822.50) scale(1.0,1.0)" font-size="24.5" text-anchor="start" font-style="italic">F</text>
<text transform="translate(422.00,818.40) scale(1.15,1.055)" font-size="31" text-anchor="start">=</text>
<text transform="translate(452.80,817.20) scale(1.0,1.055)" font-size="33.5" text-anchor="start">0.2</text>
<text transform="translate(336.20,865.80) scale(1.06,1.22)" font-size="29" text-anchor="start" font-style="italic">δ</text>
<text transform="translate(355.20,865.80) scale(1.0,1.055)" font-size="30" text-anchor="start">v</text>
<text transform="translate(370.60,865.80) scale(1.25,1.055)" font-size="30" text-anchor="start">/</text>
<text transform="translate(381.50,865.80) scale(1.0,1.0)" font-size="31" text-anchor="start" font-style="italic">v</text>
<text transform="translate(398.00,871.10) scale(1.0,1.0)" font-size="24.5" text-anchor="start" font-style="italic">F</text>
<text transform="translate(422.00,867.00) scale(1.15,1.055)" font-size="31" text-anchor="start">=</text>
<text transform="translate(452.80,865.80) scale(1.0,1.055)" font-size="33.5" text-anchor="start">0.4</text>
<text transform="translate(336.20,914.40) scale(1.06,1.22)" font-size="29" text-anchor="start" font-style="italic">δ</text>
<text transform="translate(355.20,914.40) scale(1.0,1.055)" font-size="30" text-anchor="start">v</text>
<text transform="translate(370.60,914.40) scale(1.25,1.055)" font-size="30" text-anchor="start">/</text>
<text transform="translate(381.50,914.40) scale(1.0,1.0)" font-size="31" text-anchor="start" font-style="italic">v</text>
<text transform="translate(398.00,919.70) scale(1.0,1.0)" font-size="24.5" text-anchor="start" font-style="italic">F</text>
<text transform="translate(422.00,915.60) scale(1.15,1.055)" font-size="31" text-anchor="start">=</text>
<text transform="translate(452.80,914.40) scale(1.0,1.055)" font-size="33.5" text-anchor="start">0.6</text>
</g>
<g fill="none" stroke-width="4.2">
<path d="M250.6,756.7 H321.1" stroke="#000"/>
<path d="M250.6,805.9 H321.1" stroke="#0000aa" stroke-dasharray="21.4 12.8 21.4 100"/>
<path d="M250.6,854.7 H321.1" stroke="#aa0000" stroke-dasharray="25.2 5.3"/>
<path d="M250.6,903.8 H321.1" stroke="#00aa00" stroke-dasharray="11.1 6.0 11.1 6.0 11.1 6.0 11.1 100"/>
</g>
<g fill="none" stroke="#000" stroke-width="3.7">
<path d="M610.5,197.4 H598.7 M590,197.4 H578.2 M569.5,197.4 H557.7 M549,197.4 H537.2"/>
<path d="M528.5,197.4 H518.0" stroke-linecap="round"/>
<path d="M677.00,195.44 L677.51,195.40 L678.02,195.42 L678.52,195.50 L679.03,195.63 L679.54,195.81 L680.05,196.04 L680.55,196.31 L681.06,196.61 L681.57,196.93 L682.08,197.27 L682.58,197.61 L683.09,197.94 L683.60,198.26 L684.11,198.55 L684.61,198.81 L685.12,199.03 L685.63,199.21 L686.14,199.33 L686.64,199.39 L687.15,199.40 L687.66,199.34 L688.17,199.24 L688.67,199.07 L689.18,198.86 L689.69,198.61 L690.20,198.32 L690.70,198.01 L691.21,197.68 L691.72,197.34 L692.23,197.00 L692.73,196.67 L693.24,196.37 L693.75,196.09 L694.26,195.85 L694.76,195.66 L695.27,195.52 L695.78,195.43 L696.29,195.40 L696.79,195.43 L697.30,195.51 L697.81,195.65 L698.32,195.84 L698.82,196.08 L699.33,196.35 L699.84,196.66 L700.35,196.98 L700.85,197.32 L701.36,197.66 L701.87,197.99 L702.38,198.31 L702.88,198.60 L703.39,198.85 L703.90,199.06 L704.41,199.23 L704.91,199.34 L705.42,199.39 L705.93,199.39 L706.44,199.33 L706.94,199.21 L707.45,199.04 L707.96,198.83 L708.47,198.57 L708.97,198.28 L709.48,197.96 L709.99,197.62 L710.50,197.28 L711.01,196.95 L711.51,196.62 L712.02,196.32 L712.53,196.05 L713.04,195.82 L713.54,195.64 L714.05,195.50 L714.56,195.42 L715.07,195.40 L715.57,195.44 L716.08,195.53 L716.59,195.68 L717.10,195.88 L717.60,196.12 L718.11,196.40 L718.62,196.70 L719.13,197.03 L719.63,197.37 L720.14,197.71 L720.65,198.04 L721.16,198.35 L721.66,198.64 L722.17,198.89 L722.68,199.09 L723.19,199.25 L723.69,199.35 L724.20,199.40 L724.71,199.39 L725.22,199.32 L725.72,199.19 L726.23,199.01 L726.74,198.79 L727.25,198.53 L727.75,198.23 L728.26,197.91 L728.77,197.57 L729.28,197.23 L729.78,196.90 L730.29,196.57 L730.80,196.28 L731.31,196.01 L731.81,195.79 L732.32,195.61 L732.83,195.49 L733.34,195.41 L733.84,195.40 L734.35,195.45 L734.86,195.55 L735.37,195.71 L735.87,195.91 L736.38,196.16 L736.89,196.44 L737.40,196.75 L737.90,197.09 L738.41,197.42 L738.92,197.76 L739.43,198.09 L739.93,198.40 L740.44,198.68 L740.95,198.92 L741.46,199.12 L741.96,199.27 L742.47,199.36 L742.98,199.40 L743.49,199.38 L743.99,199.30 L744.50,199.17 L745.01,198.98 L745.52,198.75 L746.03,198.48 L746.53,198.18 L747.04,197.86 L747.55,197.52 L748.06,197.18 L748.56,196.84 L749.07,196.53 L749.58,196.23 L750.09,195.97 L750.59,195.76 L751.10,195.59 L751.61,195.47 L752.12,195.41 L752.62,195.41 L753.13,195.46 L753.64,195.57 L754.15,195.73 L754.65,195.95 L755.16,196.20 L755.67,196.49 L756.18,196.80 L756.68,197.14 L757.19,197.48 L757.70,197.82 L758.21,198.14 L758.71,198.45 L759.22,198.72 L759.73,198.96 L760.24,199.15 L760.74,199.29 L761.25,199.37 L761.76,199.40 L762.27,199.37 L762.77,199.28 L763.28,199.14 L763.79,198.95 L764.30,198.71 L764.80,198.44 L765.31,198.13 L765.82,197.80 L766.33,197.47 L766.83,197.13 L767.34,196.79 L767.85,196.48 L768.36,196.19 L768.86,195.94 L769.37,195.73 L769.88,195.57 L770.39,195.46 L770.89,195.40 L771.40,195.41 L771.91,195.47 L772.42,195.59 L772.92,195.76 L773.43,195.98 L773.94,196.24 L774.45,196.54 L774.95,196.86 L775.46,197.19 L775.97,197.53 L776.48,197.87 L776.98,198.19 L777.49,198.49 L778.00,198.76" stroke-linecap="round"/>
<path d="M637.7,195.2 L652.5,210.0 M637.7,210.0 L652.5,195.2" stroke-width="4"/>
<path d="M622.84,172.10 L623.40,171.48 L623.97,170.89 L624.53,170.30 L625.09,169.73 L625.66,169.18 L626.22,168.65 L626.78,168.13 L627.35,167.62 L627.91,167.13 L628.48,166.66 L629.04,166.20 L629.60,165.76 L630.17,165.34 L630.73,164.93 L631.29,164.53 L631.86,164.15 L632.42,163.79 L632.98,163.44 L633.55,163.11 L634.11,162.80 L634.67,162.50 L635.24,162.21 L635.80,161.95 L636.37,161.69 L636.93,161.46 L637.49,161.24 L638.06,161.03 L638.62,160.84 L639.18,160.67 L639.75,160.51 L640.31,160.37 L640.87,160.24 L641.44,160.13 L642.00,160.04 L642.56,159.96 L643.13,159.90 L643.69,159.85 L644.25,159.82 L644.82,159.80 L645.38,159.80 L645.95,159.82 L646.51,159.85 L647.07,159.90 L647.64,159.96 L648.20,160.04 L648.76,160.13 L649.33,160.24 L649.89,160.37 L650.45,160.51 L651.02,160.67 L651.58,160.84 L652.14,161.03 L652.71,161.24 L653.27,161.46 L653.83,161.69 L654.40,161.95 L654.96,162.21 L655.53,162.50 L656.09,162.80 L656.65,163.11 L657.22,163.44 L657.78,163.79 L658.34,164.15 L658.91,164.53 L659.47,164.93 L660.03,165.34 L660.60,165.76 L661.16,166.20 L661.72,166.66 L662.29,167.13 L662.85,167.62 L663.42,168.13 L663.98,168.65 L664.54,169.18 L665.11,169.73 L665.67,170.30 L666.23,170.89 L666.80,171.48 L667.36,172.10" stroke-width="3.8" stroke-dasharray="1.75 1.62"/>
</g>
<g fill="#000">
<circle cx="613.4" cy="197.4" r="7.2"/><circle cx="677" cy="197.4" r="7.2"/>
<use href="#ah" transform="translate(785,197.4)"/>
<use href="#ah" transform="translate(511.8,197.4) rotate(180)"/>
<use href="#ahs" transform="translate(613.3,184.9) rotate(126)"/>
<use href="#ahs" transform="translate(676.9,184.9) rotate(54)"/>
</g>
<g fill="none" stroke="#000" stroke-width="3.7">
<path d="M613.30,278.65 L612.82,278.49 L612.35,278.38 L611.87,278.32 L611.39,278.30 L610.92,278.34 L610.44,278.43 L609.97,278.56 L609.49,278.74 L609.01,278.96 L608.54,279.21 L608.06,279.49 L607.58,279.80 L607.11,280.11 L606.63,280.43 L606.15,280.75 L605.68,281.05 L605.20,281.34 L604.73,281.60 L604.25,281.82 L603.77,282.01 L603.30,282.15 L602.82,282.25 L602.34,282.30 L601.87,282.29 L601.39,282.24 L600.91,282.13 L600.44,281.98 L599.96,281.78 L599.48,281.55 L599.01,281.29 L598.53,281.00 L598.06,280.69 L597.58,280.37 L597.10,280.05 L596.63,279.74 L596.15,279.44 L595.67,279.16 L595.20,278.91 L594.72,278.70 L594.24,278.53 L593.77,278.40 L593.29,278.33 L592.82,278.30 L592.34,278.32 L591.86,278.40 L591.39,278.52 L590.91,278.69 L590.43,278.90 L589.96,279.15 L589.48,279.42 L589.00,279.72 L588.53,280.03 L588.05,280.35 L587.58,280.67 L587.10,280.98 L586.62,281.27 L586.15,281.53 L585.67,281.77 L585.19,281.97 L584.72,282.12 L584.24,282.23 L583.76,282.29 L583.29,282.30 L582.81,282.25 L582.34,282.16 L581.86,282.02 L581.38,281.84 L580.91,281.61 L580.43,281.36 L579.95,281.07 L579.48,280.77 L579.00,280.45 L578.52,280.13 L578.05,279.82 L577.57,279.51 L577.09,279.23 L576.62,278.97 L576.14,278.75 L575.67,278.57 L575.19,278.43 L574.71,278.34 L574.24,278.30 L573.76,278.31 L573.28,278.37 L572.81,278.49 L572.33,278.64 L571.85,278.84 L571.38,279.08 L570.90,279.35 L570.43,279.64 L569.95,279.95 L569.47,280.27 L569.00,280.59 L568.52,280.90 L568.04,281.20 L567.57,281.47 L567.09,281.71 L566.61,281.92 L566.14,282.09 L565.66,282.21 L565.19,282.28 L564.71,282.30 L564.23,282.27 L563.76,282.19 L563.28,282.06 L562.80,281.89 L562.33,281.67 L561.85,281.42 L561.37,281.15 L560.90,280.85 L560.42,280.53 L559.95,280.21 L559.47,279.90 L558.99,279.59 L558.52,279.30 L558.04,279.04 L557.56,278.81 L557.09,278.61 L556.61,278.46 L556.13,278.36 L555.66,278.31 L555.18,278.31 L554.71,278.35 L554.23,278.45 L553.75,278.60 L553.28,278.79 L552.80,279.02 L552.32,279.28 L551.85,279.56 L551.37,279.87 L550.89,280.19 L550.42,280.51 L549.94,280.82 L549.46,281.12 L548.99,281.40 L548.51,281.65 L548.04,281.87 L547.56,282.05 L547.08,282.18 L546.61,282.27 L546.13,282.30 L545.65,282.28 L545.18,282.21 L544.70,282.10 L544.22,281.94 L543.75,281.73 L543.27,281.49 L542.80,281.22 L542.32,280.92 L541.84,280.61 L541.37,280.29 L540.89,279.98 L540.41,279.67 L539.94,279.37 L539.46,279.10 L538.98,278.86 L538.51,278.66 L538.03,278.50 L537.56,278.38 L537.08,278.32 L536.60,278.30 L536.13,278.34 L535.65,278.42 L535.17,278.56 L534.70,278.74 L534.22,278.95 L533.74,279.21 L533.27,279.49 L532.79,279.79 L532.32,280.11 L531.84,280.43 L531.36,280.74 L530.89,281.05 L530.41,281.33 L529.93,281.59 L529.46,281.82 L528.98,282.01 L528.50,282.15 L528.03,282.25 L527.55,282.30 L527.07,282.29 L526.60,282.24 L526.12,282.13 L525.65,281.98 L525.17,281.79 L524.69,281.55 L524.22,281.29 L523.74,281.00 L523.26,280.69 L522.79,280.38 L522.31,280.06 L521.83,279.74 L521.36,279.44 L520.88,279.17 L520.41,278.92 L519.93,278.71 L519.45,278.53 L518.98,278.41 L518.50,278.33" stroke-linecap="round"/>
<path d="M677.00,278.34 L677.51,278.30 L678.02,278.32 L678.52,278.40 L679.03,278.53 L679.54,278.71 L680.05,278.94 L680.55,279.21 L681.06,279.51 L681.57,279.83 L682.08,280.17 L682.58,280.51 L683.09,280.84 L683.60,281.16 L684.11,281.45 L684.61,281.71 L685.12,281.93 L685.63,282.11 L686.14,282.23 L686.64,282.29 L687.15,282.30 L687.66,282.24 L688.17,282.14 L688.67,281.97 L689.18,281.76 L689.69,281.51 L690.20,281.22 L690.70,280.91 L691.21,280.58 L691.72,280.24 L692.23,279.90 L692.73,279.57 L693.24,279.27 L693.75,278.99 L694.26,278.75 L694.76,278.56 L695.27,278.42 L695.78,278.33 L696.29,278.30 L696.79,278.33 L697.30,278.41 L697.81,278.55 L698.32,278.74 L698.82,278.98 L699.33,279.25 L699.84,279.56 L700.35,279.88 L700.85,280.22 L701.36,280.56 L701.87,280.89 L702.38,281.21 L702.88,281.50 L703.39,281.75 L703.90,281.96 L704.41,282.13 L704.91,282.24 L705.42,282.29 L705.93,282.29 L706.44,282.23 L706.94,282.11 L707.45,281.94 L707.96,281.73 L708.47,281.47 L708.97,281.18 L709.48,280.86 L709.99,280.52 L710.50,280.18 L711.01,279.85 L711.51,279.52 L712.02,279.22 L712.53,278.95 L713.04,278.72 L713.54,278.54 L714.05,278.40 L714.56,278.32 L715.07,278.30 L715.57,278.34 L716.08,278.43 L716.59,278.58 L717.10,278.78 L717.60,279.02 L718.11,279.30 L718.62,279.60 L719.13,279.93 L719.63,280.27 L720.14,280.61 L720.65,280.94 L721.16,281.25 L721.66,281.54 L722.17,281.79 L722.68,281.99 L723.19,282.15 L723.69,282.25 L724.20,282.30 L724.71,282.29 L725.22,282.22 L725.72,282.09 L726.23,281.91 L726.74,281.69 L727.25,281.43 L727.75,281.13 L728.26,280.81 L728.77,280.47 L729.28,280.13 L729.78,279.80 L730.29,279.47 L730.80,279.18 L731.31,278.91 L731.81,278.69 L732.32,278.51 L732.83,278.39 L733.34,278.31 L733.84,278.30 L734.35,278.35 L734.86,278.45 L735.37,278.61 L735.87,278.81 L736.38,279.06 L736.89,279.34 L737.40,279.65 L737.90,279.99 L738.41,280.32 L738.92,280.66 L739.43,280.99 L739.93,281.30 L740.44,281.58 L740.95,281.82 L741.46,282.02 L741.96,282.17 L742.47,282.26 L742.98,282.30 L743.49,282.28 L743.99,282.20 L744.50,282.07 L745.01,281.88 L745.52,281.65 L746.03,281.38 L746.53,281.08 L747.04,280.76 L747.55,280.42 L748.06,280.08 L748.56,279.74 L749.07,279.43 L749.58,279.13 L750.09,278.87 L750.59,278.66 L751.10,278.49 L751.61,278.37 L752.12,278.31 L752.62,278.31 L753.13,278.36 L753.64,278.47 L754.15,278.63 L754.65,278.85 L755.16,279.10 L755.67,279.39 L756.18,279.70 L756.68,280.04 L757.19,280.38 L757.70,280.72 L758.21,281.04 L758.71,281.35 L759.22,281.62 L759.73,281.86 L760.24,282.05 L760.74,282.19 L761.25,282.27 L761.76,282.30 L762.27,282.27 L762.77,282.18 L763.28,282.04 L763.79,281.85 L764.30,281.61 L764.80,281.34 L765.31,281.03 L765.82,280.70 L766.33,280.37 L766.83,280.03 L767.34,279.69 L767.85,279.38 L768.36,279.09 L768.86,278.84 L769.37,278.63 L769.88,278.47 L770.39,278.36 L770.89,278.30 L771.40,278.31 L771.91,278.37 L772.42,278.49 L772.92,278.66 L773.43,278.88 L773.94,279.14 L774.45,279.44 L774.95,279.76 L775.46,280.09 L775.97,280.43 L776.48,280.77 L776.98,281.09 L777.49,281.39 L778.00,281.66" stroke-linecap="round"/>
<path d="M637.7,278.1 L652.5,292.9 M637.7,292.9 L652.5,278.1" stroke-width="4"/>
<path d="M622.84,255.00 L623.40,254.38 L623.97,253.79 L624.53,253.20 L625.09,252.63 L625.66,252.08 L626.22,251.55 L626.78,251.03 L627.35,250.52 L627.91,250.03 L628.48,249.56 L629.04,249.10 L629.60,248.66 L630.17,248.24 L630.73,247.83 L631.29,247.43 L631.86,247.05 L632.42,246.69 L632.98,246.34 L633.55,246.01 L634.11,245.70 L634.67,245.40 L635.24,245.11 L635.80,244.85 L636.37,244.59 L636.93,244.36 L637.49,244.14 L638.06,243.93 L638.62,243.74 L639.18,243.57 L639.75,243.41 L640.31,243.27 L640.87,243.14 L641.44,243.03 L642.00,242.94 L642.56,242.86 L643.13,242.80 L643.69,242.75 L644.25,242.72 L644.82,242.70 L645.38,242.70 L645.95,242.72 L646.51,242.75 L647.07,242.80 L647.64,242.86 L648.20,242.94 L648.76,243.03 L649.33,243.14 L649.89,243.27 L650.45,243.41 L651.02,243.57 L651.58,243.74 L652.14,243.93 L652.71,244.14 L653.27,244.36 L653.83,244.59 L654.40,244.85 L654.96,245.11 L655.53,245.40 L656.09,245.70 L656.65,246.01 L657.22,246.34 L657.78,246.69 L658.34,247.05 L658.91,247.43 L659.47,247.83 L660.03,248.24 L660.60,248.66 L661.16,249.10 L661.72,249.56 L662.29,250.03 L662.85,250.52 L663.42,251.03 L663.98,251.55 L664.54,252.08 L665.11,252.63 L665.67,253.20 L666.23,253.79 L666.80,254.38 L667.36,255.00" stroke-width="3.8" stroke-dasharray="1.75 1.62"/>
</g>
<g fill="#000">
<circle cx="613.4" cy="280.3" r="7.2"/><circle cx="677" cy="280.3" r="7.2"/>
<use href="#ah" transform="translate(785,280.3)"/>
<use href="#ah" transform="translate(511.8,280.3) rotate(180)"/>
<use href="#ahs" transform="translate(613.3,267.8) rotate(126)"/>
<use href="#ahs" transform="translate(676.9,267.8) rotate(54)"/>
</g>
</svg>
</body></html>
